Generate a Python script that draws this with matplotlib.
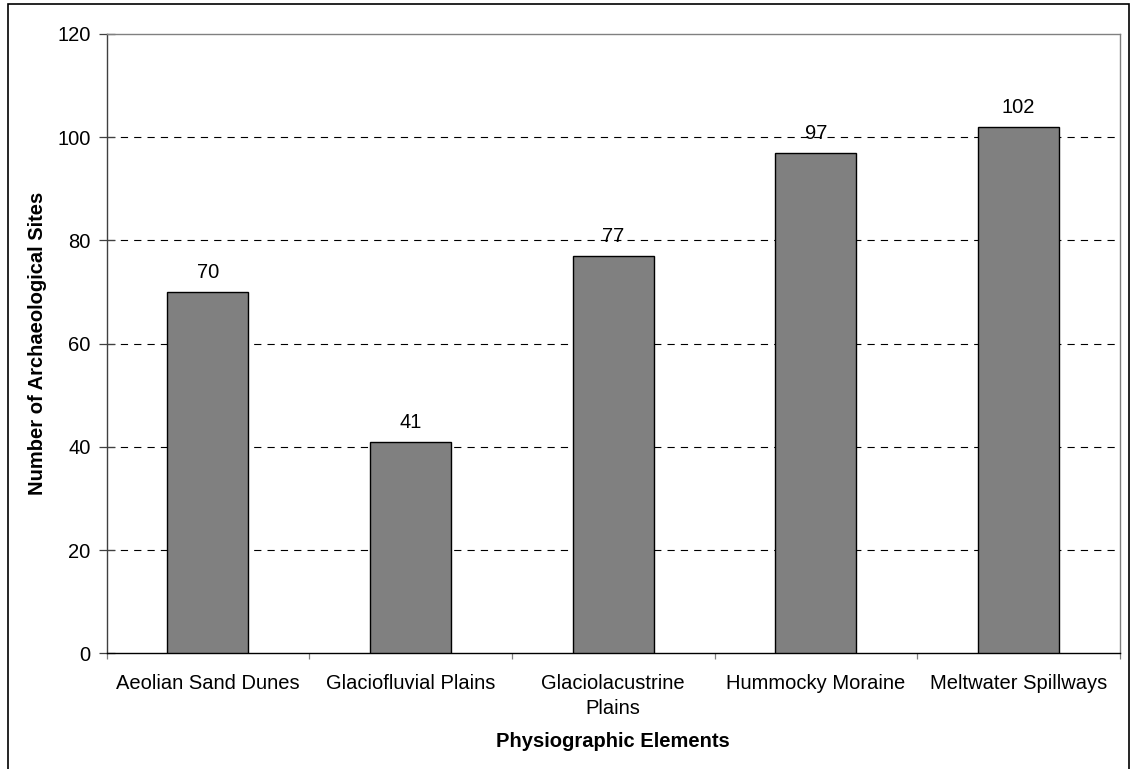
import numpy as np
import matplotlib
matplotlib.use("Agg")
import matplotlib.pyplot as plt
from matplotlib.patches import Rectangle
from matplotlib.ticker import FixedLocator

plt.rcParams['font.family'] = ['Liberation Sans', 'DejaVu Sans']

# site counts per physiographic element
elements = ["Aeolian Sand Dunes", "Glaciofluvial Plains", "Glaciolacustrine\nPlains",
            "Hummocky Moraine", "Meltwater Spillways"]
sites = [70, 41, 77, 97, 102]
yticks = [0, 20, 40, 60, 80, 100, 120]

fs = 14.5

fig = plt.figure(figsize=(11.36, 7.69), dpi=100)
ax = fig.add_axes([0.09375, 0.15046, 0.89217, 0.80533])

x = np.arange(len(elements))
bars = ax.bar(x, sites, width=0.4, color="#808080", edgecolor="black",
              linewidth=1.0, zorder=3)

for b, v in zip(bars, sites):
    ax.annotate(str(v), (b.get_x() + b.get_width() / 2, v), xytext=(0, 10),
                textcoords="offset points", ha="center", va="baseline",
                fontsize=fs, zorder=4)

ax.set_xlim(-0.5, len(elements) - 0.5)
ax.set_ylim(0, 120)
ax.set_yticks(yticks)
ax.tick_params(axis="y", direction="inout", length=11, width=0.9,
               color="#404040", labelsize=fs, pad=6)

# category labels centred, tick marks between categories
ax.set_xticks(x)
ax.set_xticklabels(elements, fontsize=fs, linespacing=1.4)
ax.tick_params(axis="x", which="major", length=0, pad=15)
ax.xaxis.set_minor_locator(FixedLocator(np.arange(-0.5, len(elements), 1.0)))
ax.tick_params(axis="x", which="minor", direction="out", length=4.5,
               width=0.9, color="#808080")

# dashed grid lines
for yv in yticks[1:-1]:
    ax.axhline(yv, color="black", linewidth=0.8, linestyle=(0, (6.5, 5.5)), zorder=1)

ax.spines["left"].set_color("#404040")
ax.spines["bottom"].set_color("black")
ax.spines["top"].set_color("#808080")
ax.spines["right"].set_color("#808080")
for s in ax.spines.values():
    s.set_linewidth(1.0)

ax.set_xlabel("Physiographic Elements", fontsize=fs, fontweight="bold", va="center")
ax.xaxis.set_label_coords(0.5, -0.1427)
ax.set_ylabel("Number of Archaeological Sites", fontsize=fs, fontweight="bold", va="center")
ax.yaxis.set_label_coords(-0.0681, 0.5)

# chart frame
fig.patches.append(Rectangle((7.5 / 1136, -0.05), 1121 / 1136, 1 - 4 / 769 + 0.05,
                             transform=fig.transFigure, fill=False,
                             edgecolor="black", linewidth=1.2))

fig.savefig("out.png", dpi=100)
